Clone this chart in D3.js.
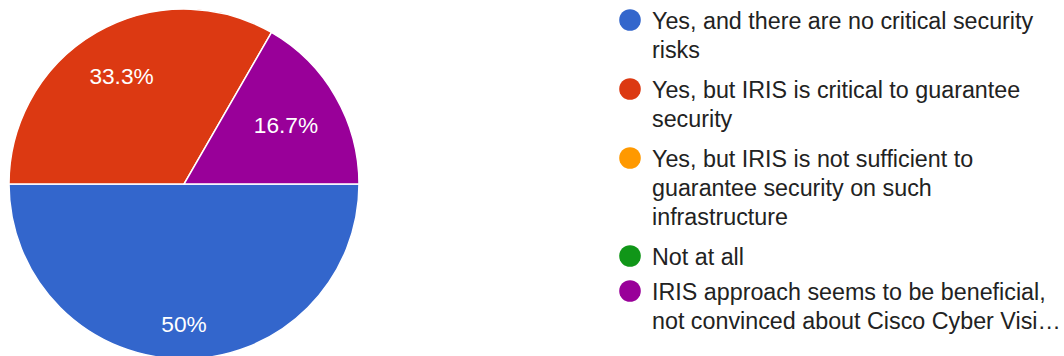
<!DOCTYPE html>
<html>
<head>
<meta charset="utf-8">
<script src="https://cdn.jsdelivr.net/npm/d3@7"></script>
<style>
  html, body { margin: 0; padding: 0; background: #ffffff; }
  svg { display: block; }
</style>
</head>
<body>
<svg id="chart" width="1064" height="356"></svg>
<script>
// ---- data ----
const categories = [
  "Yes, and there are no critical security\nrisks",
  "Yes, but IRIS is critical to guarantee\nsecurity",
  "Yes, but IRIS is not sufficient to\nguarantee security on such\ninfrastructure",
  "Not at all",
  "IRIS approach seems to be beneficial,\nnot convinced about Cisco Cyber Visi\u2026"
];
const values = [3, 2, 0, 0, 1];
const colors = ["#3366cc", "#dc3912", "#ff9900", "#109618", "#990099"];

// ---- layout ----
const W = 1064, H = 356;
const cx = 184, cy = 184, R = 175;
const fontFamily = "'Liberation Sans', Arial, Helvetica, sans-serif";
const labelSize = 22.7, legendSize = 23.3;

const svg = d3.select("#chart");
const data = categories.map((c, i) => ({ label: c, value: values[i], color: colors[i] }));
const total = d3.sum(values);

const pie = d3.pie().value(d => d.value).sort(null)
  .startAngle(Math.PI / 2).endAngle(Math.PI / 2 + 2 * Math.PI);
const arcs = pie(data);
const arc = d3.arc().innerRadius(0).outerRadius(R);

const g = svg.append("g").attr("transform", `translate(${cx},${cy})`);
g.selectAll("path.slice").data(arcs.filter(a => a.data.value > 0)).join("path")
  .attr("class", "slice")
  .attr("d", arc)
  .attr("fill", d => d.data.color)
  .attr("stroke", "#ffffff")
  .attr("stroke-width", 1.5);

// labels: placed so farthest corner of the text box sits at labelR
const labelR = R * 0.857;
const fmt = v => { const p = v / total * 100; return (Math.round(p * 10) / 10).toString() + "%"; };
const labels = g.selectAll("text.pl").data(arcs.filter(a => a.data.value > 0)).join("text")
  .attr("class", "pl")
  .attr("font-family", fontFamily)
  .attr("font-size", labelSize)
  .attr("fill", "#ffffff")
  .attr("text-anchor", "middle")
  .text(d => fmt(d.data.value));
labels.each(function(d) {
  const bb = this.getBBox();
  const w = bb.width, h = labelSize * 0.72;
  const mid = (d.startAngle + d.endAngle) / 2;
  const ux = Math.sin(mid), uy = -Math.cos(mid);
  const sx = Math.abs(ux) < 1e-6 ? 1 : Math.sign(ux);
  const sy = Math.abs(uy) < 1e-6 ? 1 : Math.sign(uy);
  const ox = sx * w / 2, oy = sy * h / 2;
  const b = 2 * (ux * ox + uy * oy);
  const c = ox * ox + oy * oy - labelR * labelR;
  const dist = (-b + Math.sqrt(b * b - 4 * c)) / 2;
  const px = dist * ux, py = dist * uy;
  d3.select(this).attr("x", px).attr("y", py + h / 2);
});

// ---- legend ----
const legX = 630, textX = 652, lineH = 29;
let y = 29.3;
const legend = svg.append("g");
data.forEach((d, i) => {
  const lines = d.label.split("\n");
  const item = legend.append("g");
  item.append("circle").attr("cx", legX).attr("cy", y - 9.3).attr("r", 10.8).attr("fill", d.color);
  const t = item.append("text")
    .attr("font-family", fontFamily)
    .attr("font-size", legendSize)
    .attr("fill", "#222222");
  lines.forEach((ln, j) => {
    t.append("tspan").attr("x", textX).attr("y", y + j * lineH).text(ln);
  });
  y += lines.length * lineH + (lines.length > 1 ? 11 : 6);
});
</script>
</body>
</html>
